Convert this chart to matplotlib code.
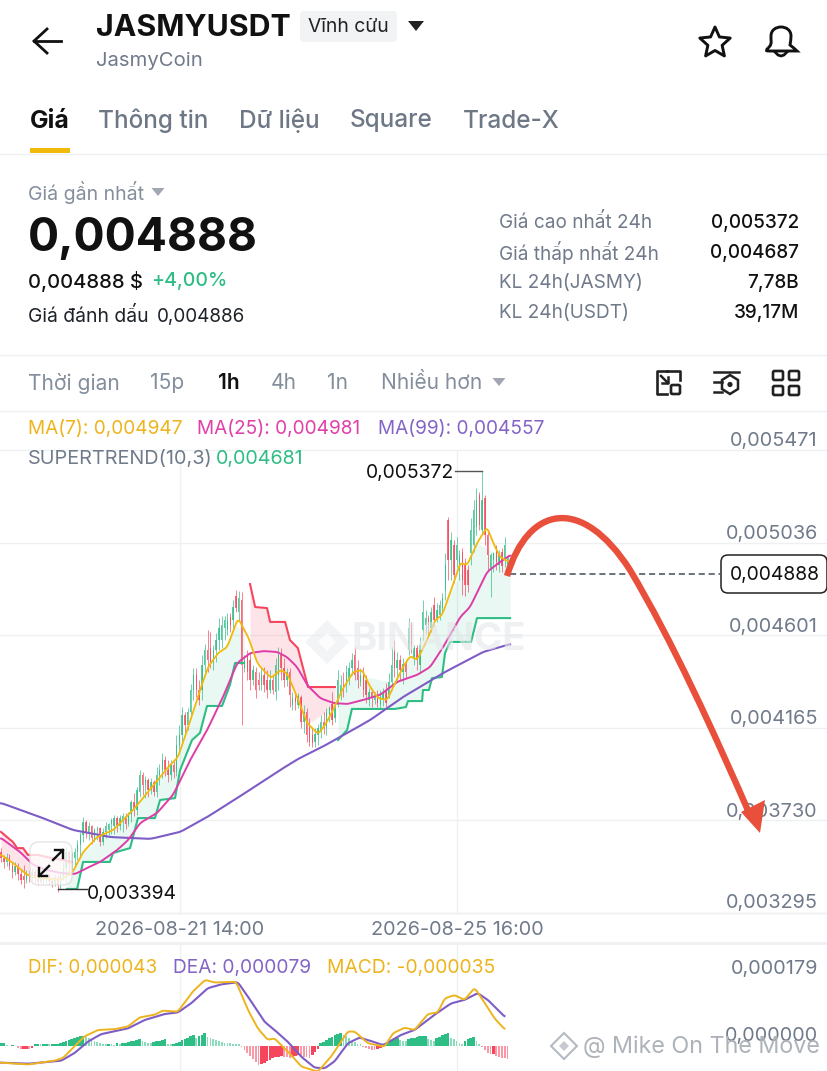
import numpy as np
import matplotlib
matplotlib.use("Agg")
import matplotlib.pyplot as plt
from matplotlib.patches import FancyBboxPatch, Polygon, Circle, Rectangle, PathPatch
from matplotlib.path import Path

# prices below are in 1e-6 USDT
opens = [3582,3553,3535,3558,3516,3488,3516,3478,3469,3450,
         3478,3459,3488,3459,3441,3469,3450,3474,3445,3431,
         3459,3427,3469,3507,3582,3525,3553,3582,3615,3662,
         3723,3676,3704,3647,3685,3694,3629,3676,3685,3713,
         3704,3741,3704,3723,3751,3713,3760,3817,3779,3864,
         3943,3896,3920,3873,3911,3864,3943,3967,4014,3967,
         3943,3991,3958,4085,4132,4226,4179,4240,4343,4414,
         4343,4343,4461,4531,4540,4475,4531,4578,4578,4634,
         4625,4686,4672,4785,4710,4766,4446,4508,4484,4390,
         4428,4390,4367,4414,4390,4343,4390,4334,4414,4508,
         4446,4390,4428,4273,4305,4273,4310,4193,4240,4179,
         4132,4099,4132,4155,4193,4164,4221,4277,4211,4273,
         4320,4367,4367,4390,4446,4508,4446,4381,4414,4390,
         4296,4334,4296,4320,4273,4296,4343,4320,4381,4522,
         4446,4484,4428,4465,4531,4649,4493,4540,4461,4625,
         4649,4681,4634,4743,4681,4695,4728,4813,5142,4954,
         5024,4954,4907,4992,4931,4907,4987,5024,5109,5260,
         5095,5245,5072,4907,4954,5015,4931,4992,4954,4931]
closes = [3553,3535,3558,3516,3488,3516,3478,3450,3450,3478,
          3459,3488,3459,3441,3469,3450,3474,3445,3431,3459,
          3427,3469,3507,3582,3525,3553,3582,3615,3662,3723,
          3676,3704,3647,3685,3694,3629,3676,3704,3713,3732,
          3741,3704,3741,3751,3713,3760,3817,3779,3873,3943,
          3896,3920,3873,3911,3864,3943,3967,4014,3967,3943,
          3991,3958,4085,4132,4226,4179,4240,4343,4414,4343,
          4296,4461,4531,4484,4475,4531,4578,4634,4649,4672,
          4672,4649,4733,4728,4775,4461,4484,4428,4390,4437,
          4343,4367,4414,4367,4343,4390,4343,4461,4508,4446,
          4390,4428,4320,4305,4287,4315,4193,4240,4132,4099,
          4094,4136,4164,4193,4164,4240,4258,4202,4258,4390,
          4367,4343,4428,4446,4484,4414,4390,4414,4343,4320,
          4334,4305,4320,4282,4310,4334,4282,4381,4461,4446,
          4484,4437,4465,4428,4634,4554,4540,4484,4554,4710,
          4681,4649,4710,4672,4719,4743,4775,4931,4954,5048,
          4884,5024,4978,4860,4837,4837,5095,5189,5236,5118,
          5236,5072,4978,4978,4987,4945,4978,4926,5024,4963]
highs = [3600,3568,3577,3572,3535,3535,3530,3497,3521,3497,
         3497,3507,3502,3478,3488,3483,3493,3483,3464,3478,
         3474,3488,3535,3605,3591,3582,3600,3638,3676,3746,
         3732,3723,3709,3694,3704,3699,3694,3723,3718,3741,
         3756,3751,3756,3765,3765,3770,3826,3859,3887,3967,
         3958,3939,3929,3929,3920,3981,3995,4047,4033,4014,
         4014,4014,4132,4179,4263,4240,4258,4371,4446,4446,
         4390,4508,4559,4625,4616,4554,4611,4681,4691,4691,
         4705,4705,4766,4813,4808,4804,4508,4531,4522,4461,
         4451,4428,4446,4451,4437,4437,4414,4493,4545,4540,
         4493,4446,4446,4334,4329,4329,4320,4273,4258,4211,
         4164,4164,4183,4226,4240,4258,4268,4334,4282,4437,
         4414,4428,4461,4475,4517,4545,4484,4446,4451,4414,
         4352,4343,4334,4343,4343,4352,4376,4423,4545,4578,
         4522,4508,4493,4484,4681,4663,4554,4554,4592,4766,
         4719,4695,4733,4780,4752,4766,4799,4987,5156,5086,
         5048,5062,5001,5010,4963,4931,5151,5236,5292,5274,
         5372,5260,5095,4987,4992,5024,5001,5010,5062,4978]
lows = [3535,3507,3516,3497,3459,3474,3450,3431,3412,3436,
        3441,3445,3436,3427,3431,3431,3436,3427,3417,3422,
        3394,3408,3450,3436,3488,3488,3516,3544,3553,3629,
        3647,3638,3619,3629,3638,3610,3615,3647,3662,3666,
        3666,3676,3685,3676,3690,3704,3723,3751,3756,3840,
        3850,3835,3840,3854,3845,3840,3896,3929,3939,3911,
        3920,3929,3939,4052,4085,4141,4155,4211,4296,4310,
        4273,4296,4428,4428,4446,4437,4475,4531,4540,4578,
        4601,4616,4625,4710,4672,4179,4428,4390,4343,4367,
        4305,4343,4343,4334,4305,4329,4324,4296,4343,4390,
        4357,4362,4263,4249,4249,4258,4164,4141,4099,4080,
        4075,4075,4085,4117,4136,4132,4193,4179,4193,4263,
        4296,4310,4334,4367,4414,4390,4352,4362,4310,4282,
        4268,4263,4277,4263,4258,4268,4263,4305,4343,4404,
        4390,4390,4371,4399,4508,4517,4461,4437,4428,4578,
        4606,4601,4616,4644,4663,4672,4710,4766,4860,4860,
        4846,4921,4860,4790,4785,4804,4931,4992,5072,5095,
        5072,5024,4907,4780,4898,4907,4898,4898,4921,4916]

ma7_idx = [0,4.2,9.2,13.8,20.8,25.1,29,33.9,39.6,46.6,51.6,58.7,62.5,66.1,70.3,73.1,76.7,79.9,83.7,87.3,90.5,92.6,95.4,98.6,101,104.6,108.1,112,114.5,117.3,120.5,124.4,127.6,130.4,133.2,136.4,139.2,142,144.5,147,150.5,153.4,155.8,159.4,162.2,164.7,168.2,171.7,173.9,176.3,179.5]
ma7_val = [3568,3530,3474,3459,3450,3483,3582,3652,3685,3779,3859,3976,4028,4169,4343,4451,4517,4545,4681,4592,4470,4437,4399,4437,4423,4310,4188,4136,4179,4249,4343,4428,4437,4357,4305,4296,4376,4451,4503,4484,4578,4672,4695,4827,4940,4931,5034,5109,5034,4968,4945]
ma25_idx = [0,6.7,11.3,16.3,20.8,26.1,30.4,35,41,44.9,49.1,55.1,60.8,66.8,72.8,78.4,83.4,88,92.6,97.5,101,104.6,108.1,112.7,117.3,122.3,127.9,133.9,139.9,147,151.6,156.2,162.2,165.7,171.7,176.3,179.9]
ma25_val = [3647,3582,3521,3497,3483,3478,3507,3535,3591,3638,3718,3765,3851,4014,4155,4310,4470,4517,4526,4522,4498,4451,4367,4305,4282,4277,4296,4320,4381,4414,4451,4545,4686,4733,4898,4945,4977]
ma99_idx = [0,13.8,25.4,38.5,52.7,63.3,72.8,83.4,98.6,104.9,112.7,122.3,130.4,142,156.2,170.3,179.9]
ma99_val = [3812,3746,3685,3652,3643,3676,3746,3835,3967,4019,4070,4141,4202,4310,4423,4522,4559]

st_red1_idx = [0,2.1,4.2,5.7,7.8,9.5,13.1,16.3,21.9,25]
st_red1_val = [3676,3652,3629,3600,3600,3568,3568,3558,3544,3535]
st_green1_idx = [23.3,26.9,29,38.5,39.6,45.6,48.4,54.4,56.2,61.5,63.3,67.5,70.3,72.8,78.1,80.9,82.7,85.9]
st_green1_val = [3408,3408,3535,3535,3577,3600,3741,3741,3826,3835,3967,4108,4141,4268,4268,4367,4470,4470]
st_red2_idx = [88,89.8,94,95.1,100.4,102.1,104.9,108.5,118]
st_red2_val = [4841,4733,4728,4663,4663,4578,4540,4357,4357]
st_green2_idx = [119.1,122.3,124,139.2,143.1,143.8,148.8,149.1,151.2,152.3,155.8,156.9,158.7,166.1,168.2,179.9]
st_green2_val = [4108,4155,4254,4254,4263,4291,4291,4343,4343,4399,4404,4517,4569,4569,4681,4681]

dif_idx = [0,9.4,18.8,21.8,25.3,29.4,34.2,40,44.8,48.9,54.2,57.1,62.4,67.7,72.1,75.4,83,87.2,90.7,94.2,96.6,99.5,102.5,106,111.9,116.6,122.5,124.9,129.6,135.5,138.4,142.5,146.1,150.8,154.3,156.7,160.2,163.7,167.3,170.2,174.3,177.9]
dif_val = [-44,-49,-39,-32,-6,25,42,44,51,75,82,93,90,143,174,167,169,95,46,16,20,-2,-24,-54,-68,-28,38,38,7,-2,33,48,42,84,88,125,134,121,153,121,73,44]
dea_idx = [0,9.4,21.2,25.9,30.6,35.3,44.8,50.6,57.7,62.4,67.1,73,77.7,83.6,87.2,93,96.6,101.3,106,110.7,114.3,117.8,122.5,126.6,130.7,134.9,141.3,146.1,153.1,159,163.7,168.4,172,177.9]
dea_val = [-44,-47,-39,-19,11,31,46,68,84,88,112,152,162,168,130,64,42,11,-28,-57,-59,-41,7,22,13,2,29,42,82,112,121,139,121,77]
macd_hist = [7,7,2,1,2,1,-6,-7,-7,-7,-8,-6,
             4,6,5,6,6,5,6,6,6,
             8,10,12,15,18,20,23,25,27,
             24,20,16,13,10,8,6,5,5,4,3,7,
             5,7,8,10,12,14,16,19,14,11,8,7,
             10,12,14,16,17,5,4,4,
             8,11,15,18,22,26,30,20,27,30,33,
             24,21,18,15,12,10,9,8,7,6,5,4,
             -4,-10,-18,-26,-34,-42,
             -50,-48,-44,-40,-36,-33,-30,-28,-26,
             -28,-30,-31,-28,-26,-24,-27,-29,-30,
             -33,-25,-16,-8,
             7,10,15,20,24,28,31,33,
             30,25,20,14,10,6,4,
             -3,-5,-8,-10,-11,-9,-6,-3,
             8,13,16,18,20,16,14,12,18,20,
             22,24,25,26,27,18,15,13,
             20,24,28,31,33,22,18,12,8,4,
             12,17,21,23,14,6,
             -3,-12,-18,-22,-20,-27,-30,-32,-33,-34]

price_ticks = ["0,005471", "0,005036", "0,004601", "0,004165", "0,003730", "0,003295"]
price_tick_vals = [5471, 5036, 4601, 4165, 3730, 3295]
time_idx = [63.3, 161.2]
time_labels = ["2026-08-21 14:00", "2026-08-25 16:00"]
last_price = 4888
high_price, high_idx = 5372, 170
low_price, low_idx = 3394, 20

GREEN = "#2EBD85"
RED = "#F6465D"
YEL = "#F0B90B"
PINK = "#DE3CA8"
PURP = "#7E5CC6"
GRID = "#EEF0F2"
DARK = "#1E2329"
GRAY = "#707A8A"
LGRAY = "#848E9C"


def rounded(xs, ys, span=1.6):
    # round the corners of a hand-read line, only for drawing it
    grid = np.arange(xs[0], xs[-1] + 0.1, 0.1)
    vals = np.interp(grid, xs, ys)
    n = int(span / 0.1)
    kernel = np.ones(n) / n
    pad = np.pad(vals, n, mode="edge")
    return grid, np.convolve(pad, kernel, mode="same")[n:-n]


plt.rcParams['font.family'] = ['Inter', 'DejaVu Sans']
W, H = 828, 1071
fig = plt.figure(figsize=(8.28, 10.71), dpi=100, facecolor="white")

# price panel
ax = fig.add_axes([0, (H - 913) / H, 1, (913 - 450) / H])
ax.set_xlim(-1 / 2.83, 827 / 2.83)
ax.set_ylim(3295, 5471)
ax.axis("off")
for v in price_tick_vals:
    ax.axhline(v, color=GRID, lw=1, zorder=0, clip_on=False)
for t in time_idx:
    ax.plot([t, t], [3295, 5471], color=GRID, lw=1, zorder=0, clip_on=False)

# supertrend fill against the fast MA
for xs, ys, c, a in [(st_red1_idx, st_red1_val, RED, 0.14), (st_green1_idx, st_green1_val, GREEN, 0.10),
                     (st_red2_idx, st_red2_val, RED, 0.14), (st_green2_idx, st_green2_val, GREEN, 0.10)]:
    top = np.interp(xs, ma7_idx, ma7_val)
    ax.fill_between(xs, ys, top, color=c, alpha=a, lw=0, zorder=1)

idx = np.arange(len(opens))
for i in idx:
    c = GREEN if closes[i] >= opens[i] else RED
    ax.plot([i, i], [lows[i], highs[i]], color=c, lw=0.6, alpha=0.8, zorder=2, solid_capstyle="butt")
    ax.bar(i, abs(closes[i] - opens[i]), bottom=min(opens[i], closes[i]), width=0.5, color=c, alpha=0.8, lw=0, zorder=2)

for xs, ys, c in [(st_red1_idx, st_red1_val, RED), (st_green1_idx, st_green1_val, GREEN),
                  (st_red2_idx, st_red2_val, RED), (st_green2_idx, st_green2_val, GREEN)]:
    ax.plot(xs, ys, color=c, lw=1.5, zorder=3)
ax.plot(*rounded(ma99_idx, ma99_val, 3), color=PURP, lw=1.5, zorder=4)
ax.plot(*rounded(ma25_idx, ma25_val, 2), color=PINK, lw=1.4, zorder=4)
ax.plot(*rounded(ma7_idx, ma7_val), color=YEL, lw=1.3, zorder=4)

# current price dashes
ax.plot([179.9, 254.2], [last_price, last_price], color="#444B55", lw=1.1, ls=(0, (4, 2.5)), zorder=5)

# high / low leader lines
ax.plot([high_idx, 160.5], [high_price, high_price], color="#555", lw=1, zorder=5)
ax.plot([low_idx, 30.5], [low_price + 14, low_price + 14], color="#333", lw=1, zorder=5)

# macd panel
ax2 = fig.add_axes([0, 0, 1, (H - 943) / H])
ax2.set_xlim(-1 / 2.83, 827 / 2.83)
ax2.set_ylim(-66, 271)
ax2.axis("off")
for t in time_idx:
    ax2.axvline(t, color=GRID, lw=1, zorder=0)
prev = 0
for i, v in enumerate(macd_hist):
    c = GREEN if v >= 0 else RED
    solid = v >= prev
    ax2.bar(i, v, width=0.95 if solid else 0.6, color=c, alpha=1.0 if solid else 0.55, lw=0, zorder=2)
    prev = v
ax2.plot(*rounded(dea_idx, dea_val), color=PURP, lw=1.5, zorder=3)
ax2.plot(*rounded(dif_idx, dif_val), color="#EDB41E", lw=1.4, zorder=3)

# overlay in picture pixels for the app screen around the chart
ui = fig.add_axes([0, 0, 1, 1], facecolor="none")
ui.set_xlim(0, W)
ui.set_ylim(H, 0)
ui.axis("off")


def txt(x, y, s, size, color=DARK, weight="normal", ha="left", **kw):
    return ui.text(x, y + 2, s, fontsize=size, color=color, fontweight=weight, ha=ha, va="center", **kw)


def tri(cx, cy, w, h, color):
    ui.add_patch(Polygon([(cx - w / 2, cy - h / 2), (cx + w / 2, cy - h / 2), (cx, cy + h / 2)], color=color, lw=0))


# header
ui.plot([61, 34], [41, 41], color="#111", lw=2)
ui.plot([47, 34, 47], [29, 41, 53], color="#111", lw=2, solid_joinstyle="miter")
txt(96, 26, "JASMYUSDT", 21.8, "#111", "bold")
ui.add_patch(FancyBboxPatch((300, 11), 97, 31, boxstyle="round,pad=0,rounding_size=4", fc="#F2F3F5", ec="none"))
txt(308, 25, "Vĩnh cửu", 13.9, "#222")
tri(416, 26, 16, 10, "#222")
txt(96, 59, "JasmyCoin", 14.6, GRAY)
a = np.linspace(np.pi / 2, np.pi / 2 + 2 * np.pi, 11)[:-1]
r = np.where(np.arange(10) % 2 == 0, 16, 7.5)
ui.add_patch(Polygon(np.c_[715 + r * np.cos(a), 43 - r * np.sin(a)], closed=True, fc="none", ec="#111", lw=2.1, joinstyle="round"))
bell = Path([(768, 48), (772, 45), (771, 40), (771, 36), (771, 30), (776, 27), (781, 27), (786, 27), (791, 30), (791, 36), (791, 40), (790, 45), (794, 48), (797, 51), (794, 51), (768, 51), (765, 51), (768, 48)],
            [1, 3, 3, 2, 4, 4, 4, 4, 4, 4, 3, 3, 3, 3, 3, 2, 3, 3])
ui.add_patch(PathPatch(bell, fc="none", ec="#111", lw=2.1))
ui.plot([775, 778, 781, 784, 787], [52, 55, 56, 55, 52], color="#111", lw=2)

# tabs
for x, s in [(98, "Thông tin"), (239, "Dữ liệu"), (350, "Square"), (463, "Trade-X")]:
    txt(x, 119, s, 17.5, "#6E7785", "medium")
txt(30, 119, "Giá", 17.8, "#111", "bold")
ui.add_patch(Rectangle((30, 148), 40, 5, color=YEL, lw=0))
ui.plot([0, W], [153.5, 153.5], color="#EEF0F2", lw=1)

# price block
txt(28, 190, "Giá gần nhất", 14, LGRAY)
tri(158, 192, 13, 8, "#A0A7B2")
txt(28, 237, "0,004888", 33.2, "#111", "bold")
txt(28, 279, "0,004888 $", 14.5, "#111", "medium")
txt(151, 279, "+4,00%", 14, GREEN, "medium")
txt(28, 315, "Giá đánh dấu", 13.9, DARK)
txt(157, 315, "0,004886", 13.6, DARK)
for y, k, v in [(221, "Giá cao nhất 24h", "0,005372"), (251, "Giá thấp nhất 24h", "0,004687"),
                (281, "KL 24h(JASMY)", "7,78B"), (311, "KL 24h(USDT)", "39,17M")]:
    txt(499, y, k, 13.7, GRAY)
    txt(799, y, v, 13.6, "#111", "medium", ha="right")
ui.plot([0, W], [354.5, 354.5], color="#EEF0F2", lw=1)

# toolbar
for x, s, c, w in [(28, "Thời gian", LGRAY, "normal"), (150, "15p", LGRAY, "normal"), (218, "1h", "#111", "semibold"),
                   (271, "4h", LGRAY, "normal"), (327, "1n", LGRAY, "normal"), (381, "Nhiều hơn", LGRAY, "normal")]:
    txt(x, 381, s, 15.1, c, w)
tri(499, 382, 13, 8, "#A0A7B2")
ui.plot([0, W], [410.5, 410.5], color="#EEF0F2", lw=1)
ui.plot([667, 657, 657, 667], [394, 394, 371, 371], color="#222", lw=1.9)
ui.plot([667, 680, 680], [371, 371, 380], color="#222", lw=1.9)
ui.add_patch(FancyBboxPatch((671, 385), 9, 9, boxstyle="round,pad=0,rounding_size=1.5", fc="none", ec="#222", lw=1.9))
ui.plot([661, 668], [376, 383], color="#222", lw=1.8)
ui.plot([662, 668, 668], [383, 383, 377], color="#222", lw=1.8)
ui.plot([714, 739], [372, 372], color="#222", lw=1.8)
ui.plot([714, 722], [382, 382], color="#222", lw=1.8)
ui.plot([714, 722], [392, 392], color="#222", lw=1.8)
ui.add_patch(Polygon([(730, 375), (738, 380), (738, 389), (730, 394), (722, 389), (722, 380)], fc="none", ec="#222", lw=1.8))
ui.add_patch(Circle((730, 384.5), 2.6, color="#222", lw=0))
for x, y in [(773, 371), (789, 371), (773, 386), (789, 386)]:
    ui.add_patch(FancyBboxPatch((x, y), 10, 9, boxstyle="round,pad=0,rounding_size=1.5", fc="none", ec="#222", lw=1.9))

# legend text
txt(28, 427, "MA(7): 0,004947", 13.7, "#EDB41E")
txt(197, 427, "MA(25): 0,004981", 13.7, "#E13FA8")
txt(378, 427, "MA(99): 0,004557", 13.7, "#8464C6")
txt(28, 457, "SUPERTREND(10,3)", 14.3, GRAY)
txt(216, 457, "0,004681", 14.2, GREEN)

# y labels
label_y = [439, 532, 625, 717, 810, 901]
for y, s in zip(label_y, price_ticks):
    txt(818, y, s, 14.3, GRAY, ha="right")
for x, s in zip([180, 457], time_labels):
    txt(x, 928, s, 14.3, GRAY, ha="center", zorder=9)
ui.plot([0, W], [943, 943], color="#EEF0F2", lw=2)
ui.plot([0, W], [913, 913], color=GRID, lw=1)

txt(366, 471, "0,005372", 13.9, "#111")
txt(87, 892, "0,003394", 13.9, "#111")

# last price tag
ui.add_patch(FancyBboxPatch((721, 555), 106, 38, boxstyle="round,pad=0,rounding_size=7", fc="white", ec="#222", lw=1.1, zorder=6))
txt(774.5, 573, "0,004888", 13.9, "#111", ha="center", zorder=7)

# expand button over the chart
ui.add_patch(FancyBboxPatch((30, 842), 42, 43, boxstyle="round,pad=0,rounding_size=9", fc="white", ec="#DDDDDD", lw=1, alpha=0.78, zorder=6))
ui.plot([63, 53], [850, 860], color="#111", lw=1.7, zorder=7)
ui.plot([55, 63, 63], [850, 850, 858], color="#111", lw=1.7, zorder=7)
ui.plot([39, 49], [876, 866], color="#111", lw=1.7, zorder=7)
ui.plot([47, 39, 39], [876, 876, 868], color="#111", lw=1.7, zorder=7)

# watermarks
txt(352, 638, "BINANCE", 27.6, "#E4E7EA", "bold", alpha=0.6, zorder=5)
a = np.array([(327, 620), (349, 642), (327, 664), (305, 642)])
ui.add_patch(Polygon(a, fc="#E9EBEE", ec="none", alpha=0.55, zorder=5))
ui.add_patch(Polygon([(327, 633), (336, 642), (327, 651), (318, 642)], fc="white", ec="none", alpha=0.8, zorder=5))

# drawn red arrow
arrow = Path([(507, 576), (528, 505), (582, 495), (630, 570), (672, 640), (715, 735), (750, 815)],
             [Path.MOVETO, Path.CURVE4, Path.CURVE4, Path.CURVE4, Path.CURVE4, Path.CURVE4, Path.CURVE4])
ui.add_patch(PathPatch(arrow, fc="none", ec="#E9503C", lw=4.6, capstyle="butt", zorder=8))
ui.add_patch(Polygon([(741, 812), (765, 800), (760, 833)], color="#E9503C", lw=0, zorder=8))

# DIF line
txt(28, 966, "DIF: 0,000043", 13.6, "#EDB41E")
txt(173, 966, "DEA: 0,000079", 13.8, "#8464C6")
txt(327, 966, "MACD: -0,000035", 13.9, "#EDB41E")
txt(818, 967, "0,000179", 14.3, GRAY, ha="right")
txt(818, 1034, "0,000000", 14.3, GRAY, ha="right")

# author watermark
ui.add_patch(Polygon([(564, 1033), (577, 1046), (564, 1059), (551, 1046)], fc="none", ec="#B5BAC2", lw=1.5, zorder=8))
ui.add_patch(Polygon([(564, 1041), (569, 1046), (564, 1051), (559, 1046)], fc="#C6CAD0", lw=0, zorder=8))
txt(583, 1045, "@ Mike On The Move", 16.8, "#AEB3BA", zorder=8)

fig.savefig("out.png", dpi=100)
